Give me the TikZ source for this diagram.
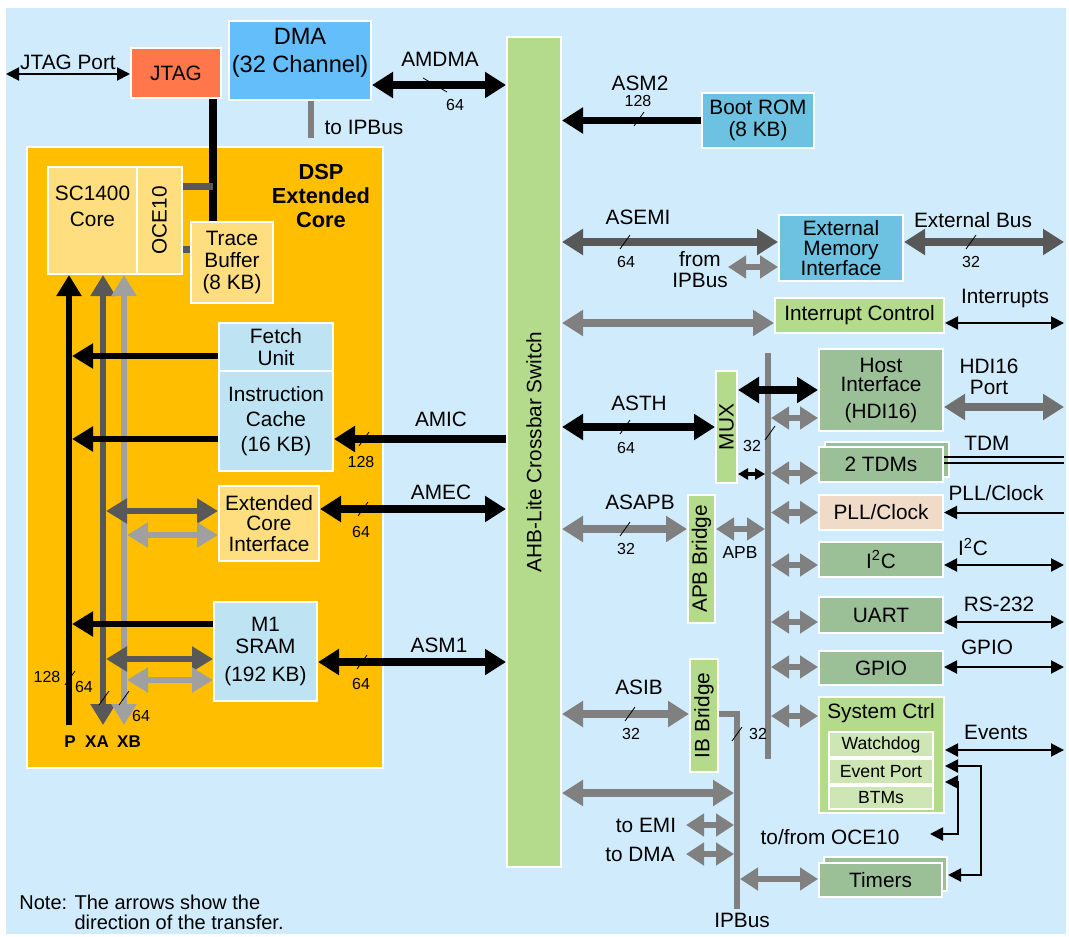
\documentclass[tikz,border=0pt]{standalone}
\usepackage{fontspec}
\setmainfont{Liberation Sans}
\usetikzlibrary{arrows.meta, positioning, calc}
\definecolor{bgblue}{RGB}{208,235,252}
\definecolor{dsporange}{RGB}{255,191,0}
\definecolor{coreyellow}{RGB}{255,222,128}
\definecolor{jtagred}{RGB}{255,119,74}
\definecolor{dmablue}{RGB}{100,190,250}
\definecolor{romblue}{RGB}{108,194,224}
\definecolor{memblue}{RGB}{190,228,244}
\definecolor{xbargreen}{RGB}{180,218,140}
\definecolor{perigreen}{RGB}{155,192,152}
\definecolor{innergreen}{RGB}{205,230,180}
\definecolor{pllpeach}{RGB}{240,218,200}
\definecolor{busdark}{RGB}{88,88,88}
\definecolor{hdigray}{RGB}{112,112,112}
\definecolor{busgray}{RGB}{128,128,128}
\definecolor{buslight}{RGB}{160,160,160}
\newcommand{\boxfont}{\fontsize{10.4}{11}\selectfont}
\newcommand{\numfont}{\fontsize{8}{9}\selectfont}

\begin{document}
\begin{tikzpicture}[x=0.5pt, y=-0.5pt,
    blk/.style={draw=white, line width=1pt, inner sep=1pt, align=center, font=\boxfont},
    wh/.style 2 args={minimum width=#1*0.5pt, minimum height=#2*0.5pt},
    lbl/.style={inner sep=0pt, align=center, font=\boxfont},
    num/.style={inner sep=0pt, font=\numfont},
    fatbus/.style={line width=3.8pt, >={Triangle[length=10.5pt,width=12.5pt]}},
    corebus/.style={line width=3.3pt, >={Triangle[length=10.5pt,width=12pt]}},
    stub/.style={busgray, line width=3.2pt, >={Triangle[length=9pt,width=11pt]}},
    sig/.style={line width=1pt, >={Triangle[length=6.5pt,width=6.5pt]}},
    slash/.pic={\draw[-, black, line width=0.4pt] (-5,7) -- (5,-7);},
    bslash/.pic={\draw[-, black, line width=0.4pt] (-12,-7) -- (12,7);}]

    % frame
    \useasboundingbox (0,0) rectangle (1069,936);
    \fill[bgblue] (6,8) rectangle (1066,934);

    % top row
    \node (jtag)    [blk, fill=jtagred, wh={90}{50}] at (176,73) {JTAG};
    \node (dma)     [blk, fill=dmablue, wh={142}{79}] at (300,60.5) {};
    \node [lbl, font=\fontsize{11.8}{14}\selectfont] at (300,53) {DMA\\(32 Channel)};
    \node (xbar)    [blk, fill=xbargreen, wh={54}{830}] at (534,452) {};
    \node [lbl, rotate=90] at (xbar) {AHB-Lite Crossbar Switch};
    \node (bootrom) [blk, fill=romblue, wh={112}{55}] at (758,120.5) {Boot ROM\\(8 KB)};

    % DSP extended core
    \node (dsp)    [blk, fill=dsporange, wh={356}{621}] at (205,457.5) {};
    \node [lbl, font=\fontsize{10.9}{12.2}\selectfont\bfseries] at (321,196) {DSP\\Extended\\Core};
    \node (core)   [blk, fill=coreyellow, wh={89}{107}] at (92.5,220.5) {};
    \node [lbl, font=\fontsize{10.4}{13}\selectfont] at (92.5,206) {SC1400\\Core};
    \node (oce)    [blk, fill=coreyellow, wh={45}{107}] at (159.5,220.5) {};
    \node [lbl, rotate=90] at (oce) {OCE10};
    \node (trace)  [blk, fill=coreyellow, wh={82}{81}, font=\fontsize{10.4}{11.2}\selectfont] at (232,262.5) {Trace\\Buffer\\(8 KB)};
    \node (fetch)  [blk, fill=memblue, wh={114}{48}] at (276,347) {Fetch\\Unit};
    \node (icache) [blk, fill=memblue, wh={114}{100}, font=\fontsize{10.4}{12.5}\selectfont] at (276,421) {Instruction\\Cache\\(16 KB)};
    \node (eci)    [blk, fill=coreyellow, wh={100}{75}, font=\fontsize{10.4}{10.3}\selectfont] at (269,523.5) {Extended\\Core\\Interface};
    \node (msram)  [blk, fill=memblue, wh={103}{99}] at (265.5,651.5) {M1\\SRAM\\[3pt](192 KB)};

    % peripherals
    \node (emi)     [blk, fill=romblue, wh={124}{66}, font=\fontsize{10.4}{10}\selectfont] at (841,248) {External\\Memory\\Interface};
    \node (intc)    [blk, fill=xbargreen, wh={169}{35}] at (859.5,315.5) {Interrupt Control};
    \node (host)    [blk, fill=perigreen, wh={124}{82}, font=\fontsize{10.4}{9.5}\selectfont] at (881,390) {Host\\Interface\\[4pt](HDI16)};
    \node (mux)     [blk, fill=xbargreen, wh={21}{112}] at (726.5,427) {};
    \node [lbl, rotate=90] at (mux) {MUX};
    \node (tdmback) [blk, fill=perigreen, wh={124}{35}] at (887,459.5) {};
    \node (tdm)     [blk, fill=perigreen, wh={124}{35}] at (881,464.5) {2 TDMs};
    \node (pll)     [blk, fill=pllpeach, wh={124}{35}] at (881,512.5) {PLL/Clock};
    \node (apb)     [blk, fill=xbargreen, wh={27}{128}] at (701.5,559) {};
    \node [lbl, rotate=90] at (apb) {APB Bridge};
    \node (i2c)     [blk, fill=perigreen, wh={124}{35}] at (881,559.5) {I\textsuperscript{2}C};
    \node (uart)    [blk, fill=perigreen, wh={124}{36}] at (881,615) {UART};
    \node (gpio)    [blk, fill=perigreen, wh={124}{34}] at (881,668) {GPIO};
    \node (sysc)    [blk, fill=xbargreen, wh={125}{116}] at (881.5,755) {};
    \node [lbl] at (881,713) {System Ctrl};
    \node (wdog)    [blk, fill=innergreen, wh={104}{25}, font=\fontsize{8.8}{10}\selectfont] at (881,744.5) {Watchdog};
    \node (evport)  [blk, fill=innergreen, wh={104}{25}, font=\fontsize{8.8}{10}\selectfont, below=0pt of wdog] {Event Port};
    \node (btms)    [blk, fill=innergreen, wh={104}{23}, font=\fontsize{8.8}{10}\selectfont, below=0pt of evport] {BTMs};
    \node (ibb)     [blk, fill=xbargreen, wh={28}{113}] at (704,715.5) {};
    \node [lbl, rotate=90] at (ibb) {IB Bridge};
    \node (timback) [blk, fill=perigreen, wh={123}{34}] at (885.5,874) {};
    \node (timers)  [blk, fill=perigreen, wh={123}{34}] at (880.5,880) {Timers};

    % helper coordinates
    \coordinate (rim)     at (1064,0);
    \coordinate (pedge)   at (72,0);
    \coordinate (xaedge)  at (106,0);
    \coordinate (xbedge)  at (127,0);
    \coordinate (pbl)     at (765,0);
    \coordinate (pbr)     at (771,0);
    \coordinate (ipl)     at (734,0);
    \coordinate (ipr)     at (740,0);
    \coordinate (evloop)  at (981,0);
    \coordinate (btmloop) at (958,0);
    \coordinate (pbtop)   at (768,353);
    \coordinate (pbbot)   at (768,759);
    \coordinate (ipbot)   at (737,909);
    \coordinate (jtagtap) at ($(jtag.south east)+(-9,0)$);
    \coordinate (dmatap)  at ($(dma.south)+(11,0)$);
    \coordinate (toipbus) at ($(dmatap)+(0,37)$);
    \coordinate (jtagport) at (6,74);
    \coordinate (fromip)  at (728,267);
    \coordinate (toemi)   at (686,825);
    \coordinate (todma)   at (686,854);
    \coordinate (ocetip)  at (930,834);
    \coordinate (pbase)   at (69,725);
    \coordinate (xabase)  at (103,725);
    \coordinate (xbbase)  at (124,725);

    % JTAG and DMA links
    \draw[sig, <->] (jtagport) -- (jtagport -| jtag.west);
    \draw[line width=4pt] (jtagtap) -- (jtagtap |- trace.north);
    \draw[busdark, line width=3.5pt] (oce.east |- 0,187) -- (jtagtap |- 0,187);
    \draw[busdark, line width=3.5pt] (oce.east |- 0,249) -- (trace.west |- 0,249);
    \draw[busgray, line width=3pt] (dmatap) -- (toipbus);
    \draw[fatbus, <->] (dma.east |- 0,85) -- (xbar.west |- 0,85);
    \draw[fatbus, ->] (bootrom.west) -- (bootrom.west -| xbar.east);

    % core buses P, XA, XB
    \draw[corebus, ->] (pbase) -- (pbase |- core.south);
    \draw[corebus, busdark, <->] (xabase |- core.south) -- (xabase);
    \draw[corebus, buslight, <->] (xbbase |- core.south) -- (xbbase);
    \draw[corebus, ->] (fetch.west |- 0,356) -- (pedge |- 0,356);
    \draw[corebus, ->] (icache.west |- 0,439) -- (pedge |- 0,439);
    \draw[corebus, busdark, <->] (xaedge |- 0,511) -- (eci.west |- 0,511);
    \draw[corebus, buslight, <->] (xbedge |- 0,535) -- (eci.west |- 0,535);
    \draw[corebus, ->] (msram.west |- 0,624) -- (pedge |- 0,624);
    \draw[corebus, busdark, <->] (xaedge |- 0,659) -- (msram.west |- 0,659);
    \draw[corebus, buslight, <->] (xbedge |- 0,680) -- (msram.west |- 0,680);

    % crossbar, left side
    \draw[fatbus, ->] (xbar.west |- 0,439) -- (icache.east |- 0,439);
    \draw[fatbus, <->] (eci.east |- 0,509) -- (xbar.west |- 0,509);
    \draw[fatbus, <->] (msram.east |- 0,662) -- (xbar.west |- 0,662);

    % crossbar, right side
    \draw[fatbus, busdark, <->] (xbar.east |- 0,242) -- (emi.west |- 0,242);
    \draw[stub, <->] (fromip) -- (emi.west |- fromip);
    \draw[fatbus, busdark, <->] (emi.east |- 0,242) -- (rim |- 0,242);
    \draw[fatbus, busgray, <->] (xbar.east |- 0,323) -- (intc.west |- 0,323);
    \draw[sig, <->] (intc.east |- 0,323) -- (rim |- 0,323);
    \draw[busgray, line width=3pt] (pbtop) -- (pbbot);
    \draw[fatbus, <->] (xbar.east |- 0,427) -- (mux.west |- 0,427);
    \draw[fatbus, <->] (mux.east |- host.west) -- (host.west);
    \draw[line width=2pt, >={Triangle[length=5pt,width=5.5pt]}, <->] (mux.east |- 0,474) -- (pbl |- 0,474);
    \draw[stub, <->] (pbr |- 0,418) -- (host.west |- 0,418);
    \draw[fatbus, hdigray, <->] (host.east |- 0,407) -- (rim |- 0,407);
    \draw[stub, <->] (pbr |- 0,473) -- (tdm.west |- 0,473);
    \draw[line width=0.7pt] (tdm.east |- 0,457) -- (rim |- 0,457);
    \draw[line width=0.7pt] (tdm.east |- 0,463) -- (rim |- 0,463);
    \draw[stub, <->] (pbr |- pll.west) -- (pll.west);
    \draw[sig, ->] (rim |- pll.east) -- (pll.east);
    \draw[fatbus, busgray, <->] (xbar.east |- 0,529) -- (apb.west |- 0,529);
    \draw[stub, <->] (apb.east |- 0,529) -- (pbl |- 0,529);
    \draw[stub, <->] (pbr |- 0,565) -- (i2c.west |- 0,565);
    \draw[sig, <->] (i2c.east |- 0,565) -- (rim |- 0,565);
    \draw[stub, <->] (pbr |- 0,622) -- (uart.west |- 0,622);
    \draw[sig, <->] (uart.east |- 0,622) -- (rim |- 0,622);
    \draw[stub, <->] (pbr |- 0,667) -- (gpio.west |- 0,667);
    \draw[sig, <->] (gpio.east |- 0,667) -- (rim |- 0,667);
    \draw[stub, <->] (pbr |- 0,716) -- (sysc.west |- 0,716);
    \draw[sig, <->] (sysc.east |- 0,750) -- (rim |- 0,750);
    \draw[sig, <->] (sysc.east |- 0,766) -| (evloop |- 0,875) -- (timback.east |- 0,875);
    \draw[sig, <->] (sysc.east |- 0,782) -| (btmloop |- ocetip) -- (ocetip);

    % IPBus
    \draw[fatbus, busgray, <->] (xbar.east |- 0,714) -- (ibb.west |- 0,714);
    \draw[busgray, line width=3pt] (ibb.east |- 0,714) -| (ipbot);
    \draw[fatbus, busgray, <->] (xbar.east |- 0,793) -- (ipl |- 0,793);
    \draw[stub, <->] (toemi) -- (ipl |- toemi);
    \draw[stub, <->] (todma) -- (ipl |- todma);
    \draw[stub, <->] (ipr |- 0,879) -- (timers.west |- 0,879);

    % bus widths
    \pic at (435,85) {bslash};   \node [num] at (455,105) {64};
    \pic at (639,119) {slash};   \node [num] at (638,101) {128};
    \pic at (364,439) {slash};   \node [num] at (361,462) {128};
    \pic at (363,509) {slash};   \node [num] at (361,532) {64};
    \pic at (362,662) {slash};   \node [num] at (361,684) {64};
    \pic at (70,678) {slash};    \node [num] at (47,677) {128};
    \pic at (104,698) {slash};   \node [num] at (84,687) {64};
    \pic at (124,698) {slash};   \node [num] at (141,716) {64};
    \pic at (625,242) {slash};   \node [num] at (626,262) {64};
    \pic at (971,242) {slash};   \node [num] at (971,262) {32};
    \pic at (625,427) {slash};   \node [num] at (626,448) {64};
    \pic at (770,433) {slash};   \node [num] at (752,446) {32};
    \pic at (625,529) {slash};   \node [num] at (626,549) {32};
    \pic at (630,714) {slash};   \node [num] at (631,734) {32};
    \pic at (737,734) {slash};   \node [num] at (758,734) {32};

    % labels
    \node [lbl] at (68,62) {JTAG Port};
    \node [lbl] at (364,127) {to IPBus};
    \node [lbl] at (440,59) {AMDMA};
    \node [lbl] at (640,83) {ASM2};
    \node [lbl] at (441,419) {AMIC};
    \node [lbl] at (441,492) {AMEC};
    \node [lbl] at (439,645) {ASM1};
    \node [lbl, font=\fontsize{8.5}{9}\selectfont\bfseries] at (70,742) {P};
    \node [lbl, font=\fontsize{8.5}{9}\selectfont\bfseries] at (97,742) {XA};
    \node [lbl, font=\fontsize{8.5}{9}\selectfont\bfseries] at (129,742) {XB};
    \node [lbl] at (638,217) {ASEMI};
    \node [lbl, font=\fontsize{10.4}{10.5}\selectfont] at (700,269.5) {from\\IPBus};
    \node [lbl] at (973,220) {External Bus};
    \node [lbl] at (1005,299) {Interrupts};
    \node [lbl] at (639,403) {ASTH};
    \node [lbl, font=\fontsize{10.4}{10.5}\selectfont] at (989,376.5) {HDI16\\Port};
    \node [lbl] at (987,443) {TDM};
    \node [lbl] at (996,493) {PLL/Clock};
    \node [lbl] at (640,502) {ASAPB};
    \node [lbl, font=\fontsize{8.7}{9}\selectfont] at (740,553) {APB};
    \node [lbl] at (973,547) {I\textsuperscript{2}C};
    \node [lbl] at (999,604) {RS-232};
    \node [lbl] at (987,647) {GPIO};
    \node [lbl] at (639,687) {ASIB};
    \node [lbl] at (996,732) {Events};
    \node [lbl] at (830,837) {to/from OCE10};
    \node [lbl] at (646,825) {to EMI};
    \node [lbl] at (640,854) {to DMA};
    \node [lbl] at (742,920) {IPBus};
    \node [lbl, align=left, anchor=west, font=\fontsize{10}{10}\selectfont] at (19,912) {Note: The arrows show the\\\phantom{Note: }direction of the transfer.};
\end{tikzpicture}
\end{document}
